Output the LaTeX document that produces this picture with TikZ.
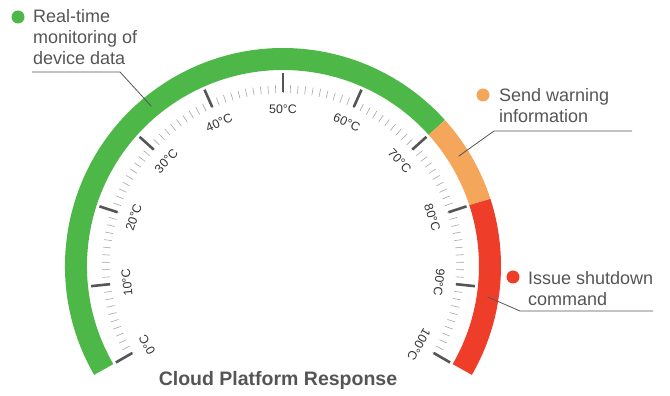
\documentclass[tikz,border=0pt]{standalone}
\usepackage{fontspec}
\setmainfont{Liberation Sans}
\usetikzlibrary{calc}
\definecolor{gaugegreen}{HTML}{4DB848}
\definecolor{gaugeorange}{HTML}{F4A65A}
\definecolor{gaugered}{HTML}{EE3E2A}
\definecolor{textgray}{HTML}{555555}
\tikzset{
  band/.style={line width=22pt},
  minortick/.style={draw=gray!70, line width=0.6pt},
  majortick/.style={draw=textgray, line width=2.6pt},
  scalelabel/.style={text=black!80, inner sep=0pt, font=\fontsize{12.4}{14}\selectfont},
  callout/.style={text=textgray, align=left, anchor=north west, inner sep=0pt, font=\fontsize{18}{21}\selectfont},
  dot/.style={circle, minimum size=13pt, inner sep=0pt},
  leader/.style={draw=textgray, line width=0.8pt}
}

\begin{document}
\begin{tikzpicture}[x=1pt, y=1pt]
\useasboundingbox (0,0) rectangle (670,396);
\begin{scope}[shift={(283,130)}]
\draw[band, gaugegreen] (210:207) arc[start angle=210, end angle=42, radius=207];
\draw[band, gaugeorange] (42:207) arc[start angle=42, end angle=18, radius=207];
\draw[band, gaugered] (18:207) arc[start angle=18, end angle=-30, radius=207];
\foreach \t [evaluate=\t as \a using 210-2.4*\t] in {0,...,100} {
  \draw[minortick] (\a:173) -- (\a:181);
}
\foreach \t [evaluate=\t as \a using 210-2.4*\t] in {0,10,...,100} {
  \draw[majortick] (\a:174) -- (\a:193);
  \node[scalelabel, rotate=\a-90] (s\t) at (\a:157) {\t°C};
}
\coordinate (p1) at (129.5:207);
\coordinate (p2) at (32:207);
\coordinate (p3) at (-8.6:207);
\end{scope}

% callouts
\node[dot, fill=gaugegreen] (d1) at (18,379) {};
\node[callout] (c1) at (33,387) {Real-time\\monitoring of\\device data};
\coordinate (e1) at (32,324);
\coordinate (k1) at (120,324);
\draw[leader] (e1) -- (k1) -- (p1);

\node[dot, fill=gaugeorange] (d2) at (483,301) {};
\node[callout] (c2) at (499,308) {Send warning\\information};
\coordinate (e2) at (632,265);
\coordinate (k2) at (494,265);
\draw[leader] (e2) -- (k2) -- (p2);

\node[dot, fill=gaugered] (d3) at (513,119) {};
\node[callout] (c3) at (528,125) {Issue shutdown\\command};
\coordinate (e3) at (653,85);
\coordinate (k3) at (520,85);
\draw[leader] (e3) -- (k3) -- (p3);

\node[text=textgray, anchor=base, font=\fontsize{19.5}{22}\selectfont\bfseries] (title) at (278,10) {Cloud Platform Response};
\end{tikzpicture}
\end{document}
